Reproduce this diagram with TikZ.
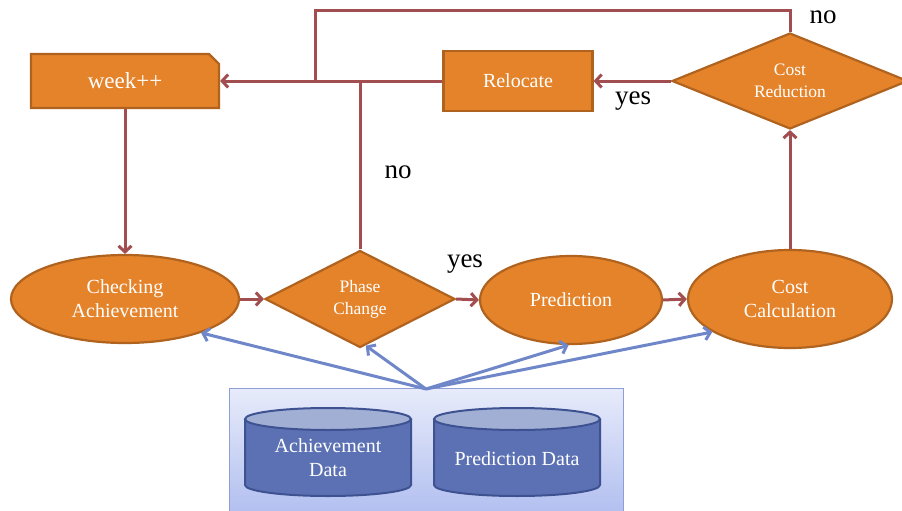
\documentclass[tikz,border=0pt]{standalone}
\usepackage{fontspec}
\setmainfont{Liberation Serif}
\usetikzlibrary{shapes.geometric,shapes.misc,arrows.meta}
\definecolor{procfill}{HTML}{E5832A}
\definecolor{procedge}{HTML}{B0631F}
\definecolor{flow}{HTML}{A24E50}
\definecolor{datalink}{HTML}{6F87C9}
\definecolor{dbbody}{HTML}{5B71B3}
\definecolor{dbtop}{HTML}{A1AFD4}
\definecolor{dbedge}{HTML}{3E5291}
\definecolor{storetop}{HTML}{E7EBFA}
\definecolor{storebot}{HTML}{B3C0F0}
\definecolor{storeedge}{HTML}{8E9FD8}
\begin{document}
\begin{tikzpicture}[x=1pt,y=-1pt,
  proc/.style={draw=procedge, fill=procfill, line width=2.2pt, text=white,
    align=center, inner sep=0pt, font=\fontsize{20}{24}\selectfont},
  decision/.style={proc, diamond, aspect=2, font=\fontsize{17.5}{22}\selectfont},
  oval/.style={proc, ellipse},
  flowarrow/.style={draw=flow, line width=3pt, -{Straight Barb[length=6pt,width=13pt]}},
  flowline/.style={draw=flow, line width=3pt},
  linkarrow/.style={draw=datalink, line width=3pt, -{Straight Barb[length=6pt,width=13pt]}},
  answer/.style={font=\fontsize{27}{30}\selectfont, inner sep=0pt},
  dbtext/.style={text=white, align=center, inner sep=0pt, font=\fontsize{20}{24}\selectfont},
]
\useasboundingbox (0,0) rectangle (902,511);

% process nodes
\node[proc, chamfered rectangle, chamfered rectangle corners=north east,
      chamfered rectangle xsep=5pt, chamfered rectangle ysep=5pt,
      minimum width=188pt, minimum height=54pt,
      font=\fontsize{23}{26}\selectfont] (week) at (125,81) {week++};
\node[proc, rectangle, minimum width=149pt, minimum height=60pt] (reloc) at (518,81) {Relocate};
\node[decision, minimum width=236pt, minimum height=96pt] (costred) at (790,81) {Cost\\Reduction};
\node[oval, minimum width=228pt, minimum height=88pt] (check) at (125,299) {Checking\\Achievement};
\node[decision, minimum width=190pt, minimum height=97pt] (phase) at (360,299) {Phase\\Change};
\node[oval, minimum width=182pt, minimum height=88pt] (pred) at (571,300) {Prediction};
\node[oval, minimum width=204pt, minimum height=98pt] (costcalc) at (790,299) {Cost\\Calculation};

% data store
\node[draw=storeedge, line width=1pt, top color=storetop, bottom color=storebot,
      minimum width=394pt, minimum height=123pt, inner sep=0pt] (store) at (426,449.5) {};
\coordinate (hub) at (426,389);

% databases
\foreach \cx/\nm in {328/achdb, 517/preddb}{
  \path[fill=dbbody, draw=dbedge, line width=2pt]
    (\cx-83,419) -- (\cx-83,485) arc[start angle=180, end angle=360, x radius=83pt, y radius=11pt]
    -- (\cx+83,419);
  \path[fill=dbtop, draw=dbedge, line width=2pt] (\cx,419) ellipse [x radius=83pt, y radius=11pt];
}
\node[dbtext] (achdata) at (328,458) {Achievement\\Data};
\node[dbtext] (preddata) at (517,459) {Prediction Data};

% main flow
\draw[flowarrow] (week.south) -- (check.north);
\draw[flowarrow] (check.east) -- (phase.west);
\draw[flowarrow] (phase.east) -- (pred.west);
\draw[flowarrow] (pred.east) -- (costcalc.west);
\draw[flowarrow] (costcalc.north) -- (costred.south);
\draw[flowarrow] (costred.west) -- (reloc.east);
\draw[flowarrow] (reloc.west) -- (week.east);
\draw[flowline] (phase.north) -- (phase.north |- week.east);
\coordinate (loopcorner) at (315,11);
\coordinate (loopjoin) at (315,81);
\draw[flowline] (costred.north) |- (loopcorner) -- (loopjoin);

% data links
\draw[linkarrow] (hub) -- (check.-24);
\draw[linkarrow] (hub) -- (phase.-83);
\draw[linkarrow] (hub) -- (pred.-93);
\draw[linkarrow] (hub) -- (costcalc.-157);

% branch labels
\node[answer] (noTop) at (823,17) {no};
\node[answer] (yesRight) at (633,101) {yes};
\node[answer] (noMid) at (398,172) {no};
\node[answer] (yesMid) at (465,264) {yes};
\end{tikzpicture}
\end{document}
